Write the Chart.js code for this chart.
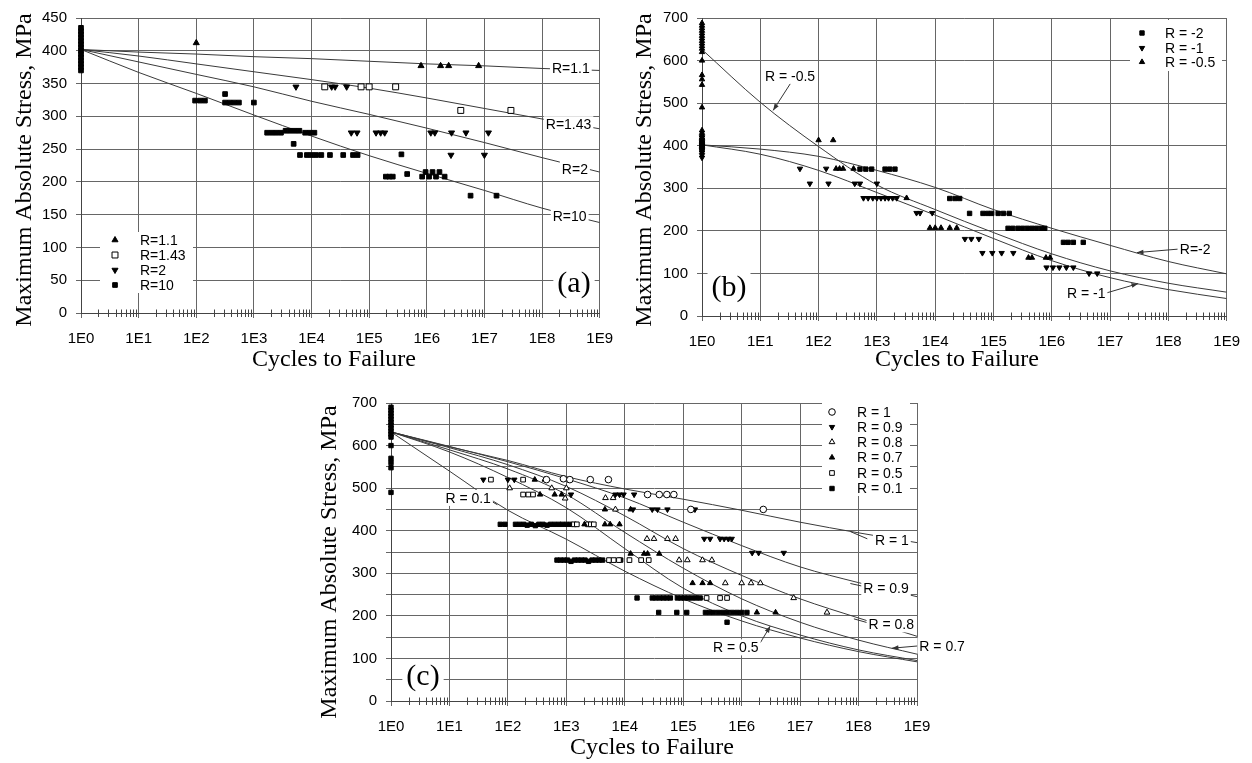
<!DOCTYPE html>
<html>
<head>
<meta charset="utf-8">
<script src="https://cdn.jsdelivr.net/npm/chart.js@4.4.1/dist/chart.umd.min.js"></script>
<style>
  html, body { margin: 0; padding: 0; background: #fff; }
  body { width: 1252px; height: 763px; position: relative; overflow: hidden; }
  canvas { position: absolute; }
  #chartA { left: 0; top: 0; }
  #chartB { left: 620px; top: 0; }
  #chartC { left: 300px; top: 385px; }
</style>
</head>
<body>
<canvas id="chartA" width="625" height="380"></canvas>
<canvas id="chartB" width="632" height="380"></canvas>
<canvas id="chartC" width="680" height="378"></canvas>
<script>
// x values are decades of cycles to failure (log10 N)
const DECADES = [0, 1, 2, 3, 4, 5, 6, 7, 8, 9];
const X_TICK_LABELS = ['1E0', '1E1', '1E2', '1E3', '1E4', '1E5', '1E6', '1E7', '1E8', '1E9'];

// ---- panel (a) ----
const A_R11 = [[2.0, 412], [5.9, 377], [6.24, 377], [6.38, 377], [6.9, 377]];
const A_R143 = [[4.23, 345], [4.86, 345], [5.0, 345], [5.46, 345], [6.59, 309], [7.46, 309]];
const A_R2 = [[3.73, 345], [4.35, 345], [4.41, 345], [4.61, 345], [4.69, 275], [4.79, 275], [5.12, 275],
  [5.2, 275], [5.27, 275], [6.07, 275], [6.14, 275], [6.43, 275], [6.68, 275], [7.07, 275], [6.42, 241], [7.0, 241]];
const A_R10 = [[0, 435], [0, 430], [0, 425], [0, 420], [0, 415], [0, 410], [0, 405], [0, 400], [0, 395],
  [0, 390], [0, 385], [0, 380], [0, 375], [0, 370],
  [1.98, 324], [2.07, 324], [2.15, 324], [2.5, 334], [2.5, 321], [2.58, 321], [2.66, 321], [2.74, 321], [3.0, 321],
  [3.23, 275], [3.31, 275], [3.39, 275], [3.47, 275], [3.55, 278], [3.63, 278], [3.71, 278], [3.79, 278],
  [3.89, 275], [3.97, 275], [4.05, 275], [3.69, 258],
  [3.8, 241], [3.92, 241], [4.0, 241], [4.08, 241], [4.17, 241], [4.32, 241], [4.55, 241], [4.72, 241], [4.8, 241],
  [5.56, 242], [5.29, 208], [5.35, 208], [5.41, 208], [5.66, 212], [5.92, 208], [5.98, 215], [6.04, 208],
  [6.1, 215], [6.16, 208], [6.22, 215], [6.31, 208], [6.76, 179], [7.21, 179]];
const A_FIT_R11 = [402, 398, 395, 391, 388, 384, 380, 377, 373, 370];
const A_FIT_R143 = [402, 392, 380, 368, 356, 343, 328, 312, 296, 281];
const A_FIT_R2 = [402, 383, 364, 345, 323, 303, 282, 260, 237, 215];
const A_FIT_R10 = [402, 367, 335, 302, 270, 240, 213, 187, 160, 138];

// ---- panel (b) ----
const B_RM2 = [[0, 410], [0, 405], [0, 400], [0, 395], [0, 390],
  [2.71, 345], [2.81, 345], [2.91, 345], [3.14, 345], [3.22, 345], [3.31, 345],
  [4.25, 276], [4.34, 276], [4.42, 276],
  [4.59, 241], [4.82, 241], [4.9, 241], [4.97, 241], [5.08, 241], [5.17, 241], [5.27, 241],
  [5.25, 206], [5.33, 206], [5.42, 206], [5.5, 206], [5.58, 206], [5.66, 206], [5.74, 206], [5.82, 206], [5.88, 206],
  [6.2, 173], [6.28, 173], [6.37, 173], [6.54, 173]];
const B_RM1 = [[0, 420], [0, 414], [0, 408], [0, 402], [0, 396], [0, 390], [0, 384], [0, 378], [0, 372],
  [1.68, 346], [2.13, 346], [1.85, 311], [2.17, 311], [2.62, 311], [2.71, 311], [3.0, 311],
  [2.77, 277], [2.85, 277], [2.93, 277], [3.0, 277], [3.07, 277], [3.14, 277], [3.2, 277], [3.27, 277], [3.34, 277],
  [3.68, 242], [3.74, 242], [3.95, 242], [4.51, 181], [4.62, 181], [4.75, 181],
  [4.81, 148], [4.98, 148], [5.14, 148], [5.34, 148],
  [5.91, 114], [6.02, 114], [6.13, 114], [6.25, 114], [6.37, 114], [6.64, 100], [6.78, 100]];
const B_RM05 = [[0, 688], [0, 682], [0, 676], [0, 670], [0, 664], [0, 658], [0, 652], [0, 646], [0, 640],
  [0, 634], [0, 628], [0, 620], [0, 600], [0, 566], [0, 556], [0, 543], [0, 490],
  [0, 436], [0, 430], [0, 424], [0, 418], [0, 412], [0, 406], [0, 400],
  [2.0, 413], [2.25, 413], [2.3, 346], [2.36, 346], [2.42, 346], [2.6, 346], [3.51, 277],
  [3.91, 207], [4.0, 207], [4.1, 207], [4.25, 207], [4.37, 207],
  [5.6, 137], [5.66, 137], [5.9, 137], [5.97, 137]];
const B_FIT_RM2 = [402, 392, 375, 342, 302, 250, 206, 166, 128, 99];
const B_FIT_RM1 = [402, 380, 342, 290, 237, 182, 130, 90, 62, 41];
const B_FIT_RM05 = [626, 502, 398, 308, 250, 196, 146, 106, 77, 56];

// ---- panel (c) ----
const C_R1 = [[2.66, 520], [2.95, 522], [3.06, 520], [3.41, 520], [3.72, 520],
  [4.39, 485], [4.59, 485], [4.72, 485], [4.84, 485], [5.13, 450], [6.37, 450]];
const C_R09 = [[1.58, 520], [2.0, 520], [2.11, 520], [3.03, 520], [3.08, 485], [3.84, 485], [3.91, 485],
  [3.98, 485], [4.16, 485], [4.14, 450], [4.47, 450], [4.56, 450], [4.73, 450], [5.2, 450],
  [5.36, 381], [5.46, 381], [5.63, 381], [5.7, 381], [5.77, 381], [5.83, 381], [6.18, 348], [6.29, 348], [6.72, 348]];
const C_R08 = [[2.03, 500], [2.75, 500], [3.0, 500], [2.98, 476], [3.67, 477], [3.8, 477], [3.84, 450],
  [4.38, 381], [4.5, 381], [4.73, 381], [4.87, 381], [4.93, 331], [5.07, 331], [5.33, 331], [5.49, 331],
  [5.72, 277], [6.0, 277], [6.16, 277], [6.32, 277], [6.89, 242], [7.46, 208]];
const C_R07 = [[2.46, 520], [2.63, 520], [2.55, 485], [2.8, 485], [2.92, 485], [3.66, 450], [4.1, 450],
  [3.31, 415], [3.66, 415], [3.75, 415], [3.91, 415], [4.1, 346], [4.33, 346], [4.39, 346], [4.59, 346],
  [5.16, 277], [5.33, 277], [5.46, 277], [6.26, 208], [6.58, 208]];
const C_R05 = [[1.71, 520], [2.26, 520], [2.26, 485], [2.35, 485], [2.43, 485], [3.13, 415], [3.18, 415],
  [3.37, 415], [3.42, 415], [3.47, 415], [3.73, 331], [3.81, 331], [3.9, 331], [4.08, 331], [4.28, 331],
  [4.41, 331], [5.4, 242], [5.63, 242], [5.75, 242]];
const C_R01 = [[0, 690], [0, 683], [0, 676], [0, 669], [0, 662], [0, 655], [0, 648], [0, 641], [0, 634],
  [0, 627], [0, 620], [0, 600], [0, 570], [0, 560], [0, 548], [0, 490],
  [1.87, 415], [1.95, 415], [2.13, 415], [2.2, 415], [2.27, 415], [2.33, 413], [2.4, 415], [2.47, 412],
  [2.53, 415], [2.6, 415], [2.67, 413], [2.73, 415], [2.8, 415], [2.87, 415], [2.93, 415], [3.0, 415], [3.07, 415],
  [2.84, 331], [2.9, 331], [2.96, 331], [3.02, 331], [3.08, 328], [3.14, 331], [3.2, 331], [3.26, 331],
  [3.32, 331], [3.38, 328], [3.44, 331], [3.5, 331], [3.56, 331], [3.62, 331], [3.93, 331],
  [4.21, 242], [4.47, 242], [4.53, 242], [4.6, 242], [4.66, 242], [4.72, 242], [4.78, 242],
  [4.9, 242], [4.96, 242], [5.02, 242], [5.08, 242], [5.15, 242], [5.22, 242], [5.29, 242],
  [4.58, 208], [4.89, 208], [5.06, 208], [5.38, 208], [5.45, 208], [5.52, 208], [5.6, 208], [5.68, 208],
  [5.76, 208], [5.84, 208], [5.92, 208], [6.0, 208], [6.09, 208], [5.75, 185]];
const C_FIT_R1 = [632, 597, 565, 527, 498, 474, 448, 420, 395, 372];
const C_FIT_R09 = [632, 598, 562, 522, 477, 420, 365, 315, 278, 245];
const C_FIT_R08 = [632, 595, 555, 504, 435, 358, 295, 240, 195, 152];
const C_FIT_R07 = [632, 590, 545, 485, 396, 312, 240, 185, 143, 110];
const C_FIT_R05 = [632, 585, 525, 454, 358, 265, 200, 155, 120, 95];
const C_FIT_R01 = [632, 540, 448, 380, 305, 240, 188, 148, 116, 92];

const SANS = "'Liberation Sans', Arial, sans-serif";
const SERIF = "'Liberation Serif', 'Times New Roman', serif";
const GRID = '#666';
const INK = '#000';

function marks(label, pairs, style, open, radius, rotation) {
  return {
    label,
    data: pairs.map(([x, y]) => ({ x, y })),
    showLine: false,
    pointStyle: style,
    pointRadius: radius,
    pointRotation: rotation || 0,
    pointBackgroundColor: open ? '#fff' : INK,
    pointBorderColor: INK,
    pointBorderWidth: 1,
    clip: false,
  };
}

function fit(values) {
  return {
    label: '',
    isFit: true,
    data: DECADES.map((x, i) => ({ x, y: values[i] })),
    showLine: true,
    pointRadius: 0,
    borderColor: '#3a3a3a',
    borderWidth: 1,
    cubicInterpolationMode: 'monotone',
  };
}

function scales(yMax, yStep, labelEvery, yWidth, xHeight) {
  return {
    x: {
      type: 'linear', min: 0, max: 9,
      afterFit: (s) => { s.height = xHeight; },
      ticks: {
        stepSize: 1, autoSkip: false, maxRotation: 0, padding: 12, color: INK,
        font: { family: SANS, size: 15 },
        callback: (v) => X_TICK_LABELS[v] || '',
      },
      grid: { color: GRID, lineWidth: 1, tickLength: 5 },
      border: { color: '#444' },
    },
    y: {
      min: 0, max: yMax,
      afterFit: (s) => { s.width = yWidth; },
      ticks: {
        stepSize: yStep, padding: 9, color: INK,
        font: { family: SANS, size: 15 },
        callback: (v) => (v % labelEvery === 0 ? v : ''),
      },
      grid: { color: GRID, lineWidth: 1, tickLength: 5 },
      border: { color: '#444' },
    },
  };
}

function arrowHead(ctx, x1, y1, x2, y2) {
  const a = Math.atan2(y2 - y1, x2 - x1);
  ctx.beginPath();
  ctx.moveTo(x2, y2);
  ctx.lineTo(x2 - 7 * Math.cos(a - 0.35), y2 - 7 * Math.sin(a - 0.35));
  ctx.lineTo(x2 - 7 * Math.cos(a + 0.35), y2 - 7 * Math.sin(a + 0.35));
  ctx.closePath();
  ctx.fill();
}

// labels, leaders, legend box, panel tag, axis titles and minor log ticks
const overlay = {
  id: 'overlay',
  afterDatasetsDraw(chart, args, o) {
    const ctx = chart.ctx;
    const xs = chart.scales.x, ys = chart.scales.y;
    const ox = chart.canvas.offsetLeft, oy = chart.canvas.offsetTop;
    ctx.save();
    ctx.strokeStyle = '#333';
    ctx.fillStyle = '#333';
    ctx.lineWidth = 1;
    (o.leaders || []).forEach((l) => {
      const x1 = xs.getPixelForValue(l.from[0]), y1 = ys.getPixelForValue(l.from[1]);
      const x2 = xs.getPixelForValue(l.to[0]), y2 = ys.getPixelForValue(l.to[1]);
      ctx.beginPath();
      ctx.moveTo(x1, y1);
      ctx.lineTo(x2, y2);
      ctx.stroke();
      if (l.arrow) arrowHead(ctx, x1, y1, x2, y2);
    });
    ctx.font = '14px ' + SANS;
    ctx.textAlign = 'center';
    ctx.textBaseline = 'middle';
    (o.labels || []).forEach((t) => {
      const x = xs.getPixelForValue(t.at[0]), y = ys.getPixelForValue(t.at[1]);
      const w = ctx.measureText(t.text).width;
      ctx.fillStyle = '#fff';
      ctx.fillRect(x - w / 2 - 2, y - 8, w + 4, 16);
      ctx.fillStyle = INK;
      ctx.fillText(t.text, x, y + 1);
    });
    if (o.legend) {
      const L = o.legend;
      ctx.fillStyle = '#fff';
      ctx.fillRect(L.box[0] - ox, L.box[1] - oy, L.box[2] - L.box[0], L.box[3] - L.box[1]);
      const sets = chart.data.datasets.filter((d) => !d.isFit);
      sets.forEach((d, i) => {
        const y = L.rows[i] - oy;
        ctx.fillStyle = d.pointBackgroundColor;
        ctx.strokeStyle = d.pointBorderColor;
        ctx.lineWidth = 1;
        Chart.helpers.drawPoint(ctx, {
          pointStyle: d.pointStyle, radius: d.pointRadius, rotation: d.pointRotation, borderWidth: 1,
        }, L.markX - ox, y);
        ctx.fillStyle = INK;
        ctx.textAlign = 'left';
        ctx.fillText(d.label, L.textX - ox, y + 1);
      });
    }
    if (o.tag) {
      ctx.font = '30px ' + SERIF;
      ctx.textAlign = 'center';
      const w = ctx.measureText(o.tag.text).width;
      ctx.fillStyle = '#fff';
      ctx.fillRect(o.tag.at[0] - ox - w / 2 - 4, o.tag.at[1] - oy - 15, w + 8, 30);
      ctx.fillStyle = INK;
      ctx.fillText(o.tag.text, o.tag.at[0] - ox, o.tag.at[1] - oy + 1);
    }
    ctx.restore();
  },
  afterDraw(chart, args, o) {
    const ctx = chart.ctx;
    const xs = chart.scales.x;
    const ox = chart.canvas.offsetLeft, oy = chart.canvas.offsetTop;
    const base = chart.chartArea.bottom;
    ctx.save();
    ctx.strokeStyle = '#444';
    ctx.lineWidth = 1;
    ctx.beginPath();
    for (let d = 0; d < 9; d++) {
      for (let k = 2; k <= 9; k++) {
        const x = Math.round(xs.getPixelForValue(d + Math.log10(k))) + 0.5;
        ctx.moveTo(x, base - 3.5);
        ctx.lineTo(x, base + 4);
      }
    }
    ctx.stroke();
    ctx.fillStyle = INK;
    ctx.font = '24px ' + SERIF;
    ctx.textAlign = 'center';
    ctx.textBaseline = 'middle';
    ctx.fillText('Cycles to Failure', o.xTitle[0] - ox, o.xTitle[1] - oy);
    ctx.translate(o.yTitle[0] - ox, o.yTitle[1] - oy);
    ctx.rotate(-Math.PI / 2);
    ctx.fillText('Maximum Absolute Stress, MPa', 0, 0);
    ctx.restore();
  },
};

function makeChart(id, datasets, sc, padding, ov) {
  return new Chart(document.getElementById(id), {
    type: 'scatter',
    data: { datasets },
    options: {
      responsive: false,
      animation: false,
      events: [],
      layout: { padding },
      scales: sc,
      plugins: { legend: { display: false }, tooltip: { enabled: false }, overlay: ov },
    },
    plugins: [overlay],
  });
}

makeChart('chartA', [
  marks('R=1.1', A_R11, 'triangle', false, 3.5),
  marks('R=1.43', A_R143, 'rect', true, 4.2),
  marks('R=2', A_R2, 'triangle', false, 3.5, 180),
  marks('R=10', A_R10, 'rect', false, 3.3),
  fit(A_FIT_R11), fit(A_FIT_R143), fit(A_FIT_R2), fit(A_FIT_R10),
], scales(450, 50, 50, 81, 67), { left: 0, top: 10, right: 18, bottom: 0 }, {
  labels: [
    { text: 'R=1.1', at: [8.5, 373] },
    { text: 'R=1.43', at: [8.46, 288] },
    { text: 'R=2', at: [8.57, 220] },
    { text: 'R=10', at: [8.48, 148] },
  ],
  legend: { box: [100, 232, 193, 293], rows: [240, 255, 270, 285], markX: 115, textX: 140 },
  tag: { text: '(a)', at: [574, 283] },
  xTitle: [334, 360], yTitle: [25, 170],
});

makeChart('chartB', [
  marks('R = -2', B_RM2, 'rect', false, 3.1),
  marks('R = -1', B_RM1, 'triangle', false, 3.1, 180),
  marks('R = -0.5', B_RM05, 'triangle', false, 3.1),
  fit(B_FIT_RM2), fit(B_FIT_RM1), fit(B_FIT_RM05),
], scales(700, 100, 100, 82, 64), { left: 0, top: 13, right: 25, bottom: 0 }, {
  labels: [
    { text: 'R = -0.5', at: [1.51, 564] },
    { text: 'R=-2', at: [8.46, 157] },
    { text: 'R = -1', at: [6.59, 53] },
  ],
  leaders: [
    { from: [1.54, 551], to: [1.22, 483], arrow: true },
    { from: [8.16, 157], to: [7.46, 149], arrow: true },
    { from: [6.91, 53], to: [7.48, 76], arrow: true },
  ],
  legend: { box: [1130, 20, 1222, 71], rows: [33, 48, 62], markX: 1142, textX: 1165 },
  tag: { text: '(b)', at: [729, 287] },
  xTitle: [957, 360], yTitle: [645, 170],
});

makeChart('chartC', [
  marks('R = 1', C_R1, 'circle', true, 3.3),
  marks('R = 0.9', C_R09, 'triangle', false, 3.1, 180),
  marks('R = 0.8', C_R08, 'triangle', true, 3.3),
  marks('R = 0.7', C_R07, 'triangle', false, 3.1),
  marks('R = 0.5', C_R05, 'rect', true, 3.3),
  marks('R = 0.1', C_R01, 'rect', false, 3.1),
  fit(C_FIT_R1), fit(C_FIT_R09), fit(C_FIT_R08), fit(C_FIT_R07), fit(C_FIT_R05), fit(C_FIT_R01),
], scales(700, 50, 100, 91, 62), { left: 0, top: 14, right: 63, bottom: 0 }, {
  labels: [
    { text: 'R = 0.1', at: [1.32, 477] },
    { text: 'R = 1', at: [8.57, 378] },
    { text: 'R = 0.9', at: [8.47, 265] },
    { text: 'R = 0.8', at: [8.56, 180] },
    { text: 'R = 0.7', at: [9.43, 130] },
    { text: 'R = 0.5', at: [5.9, 126] },
  ],
  leaders: [
    { from: [1.72, 469], to: [1.82, 461] },
    { from: [7.86, 398], to: [8.15, 381] },
    { from: [7.86, 276], to: [8.09, 269] },
    { from: [7.92, 193], to: [8.15, 184] },
    { from: [9.07, 130], to: [8.57, 124], arrow: true },
    { from: [6.32, 137], to: [6.49, 176], arrow: true },
  ],
  legend: { box: [822, 402, 910, 496], rows: [412, 427, 442, 457.5, 473, 488.5], markX: 832, textX: 857 },
  tag: { text: '(c)', at: [423, 676] },
  xTitle: [652, 748], yTitle: [330, 562],
});
</script>
</body>
</html>
